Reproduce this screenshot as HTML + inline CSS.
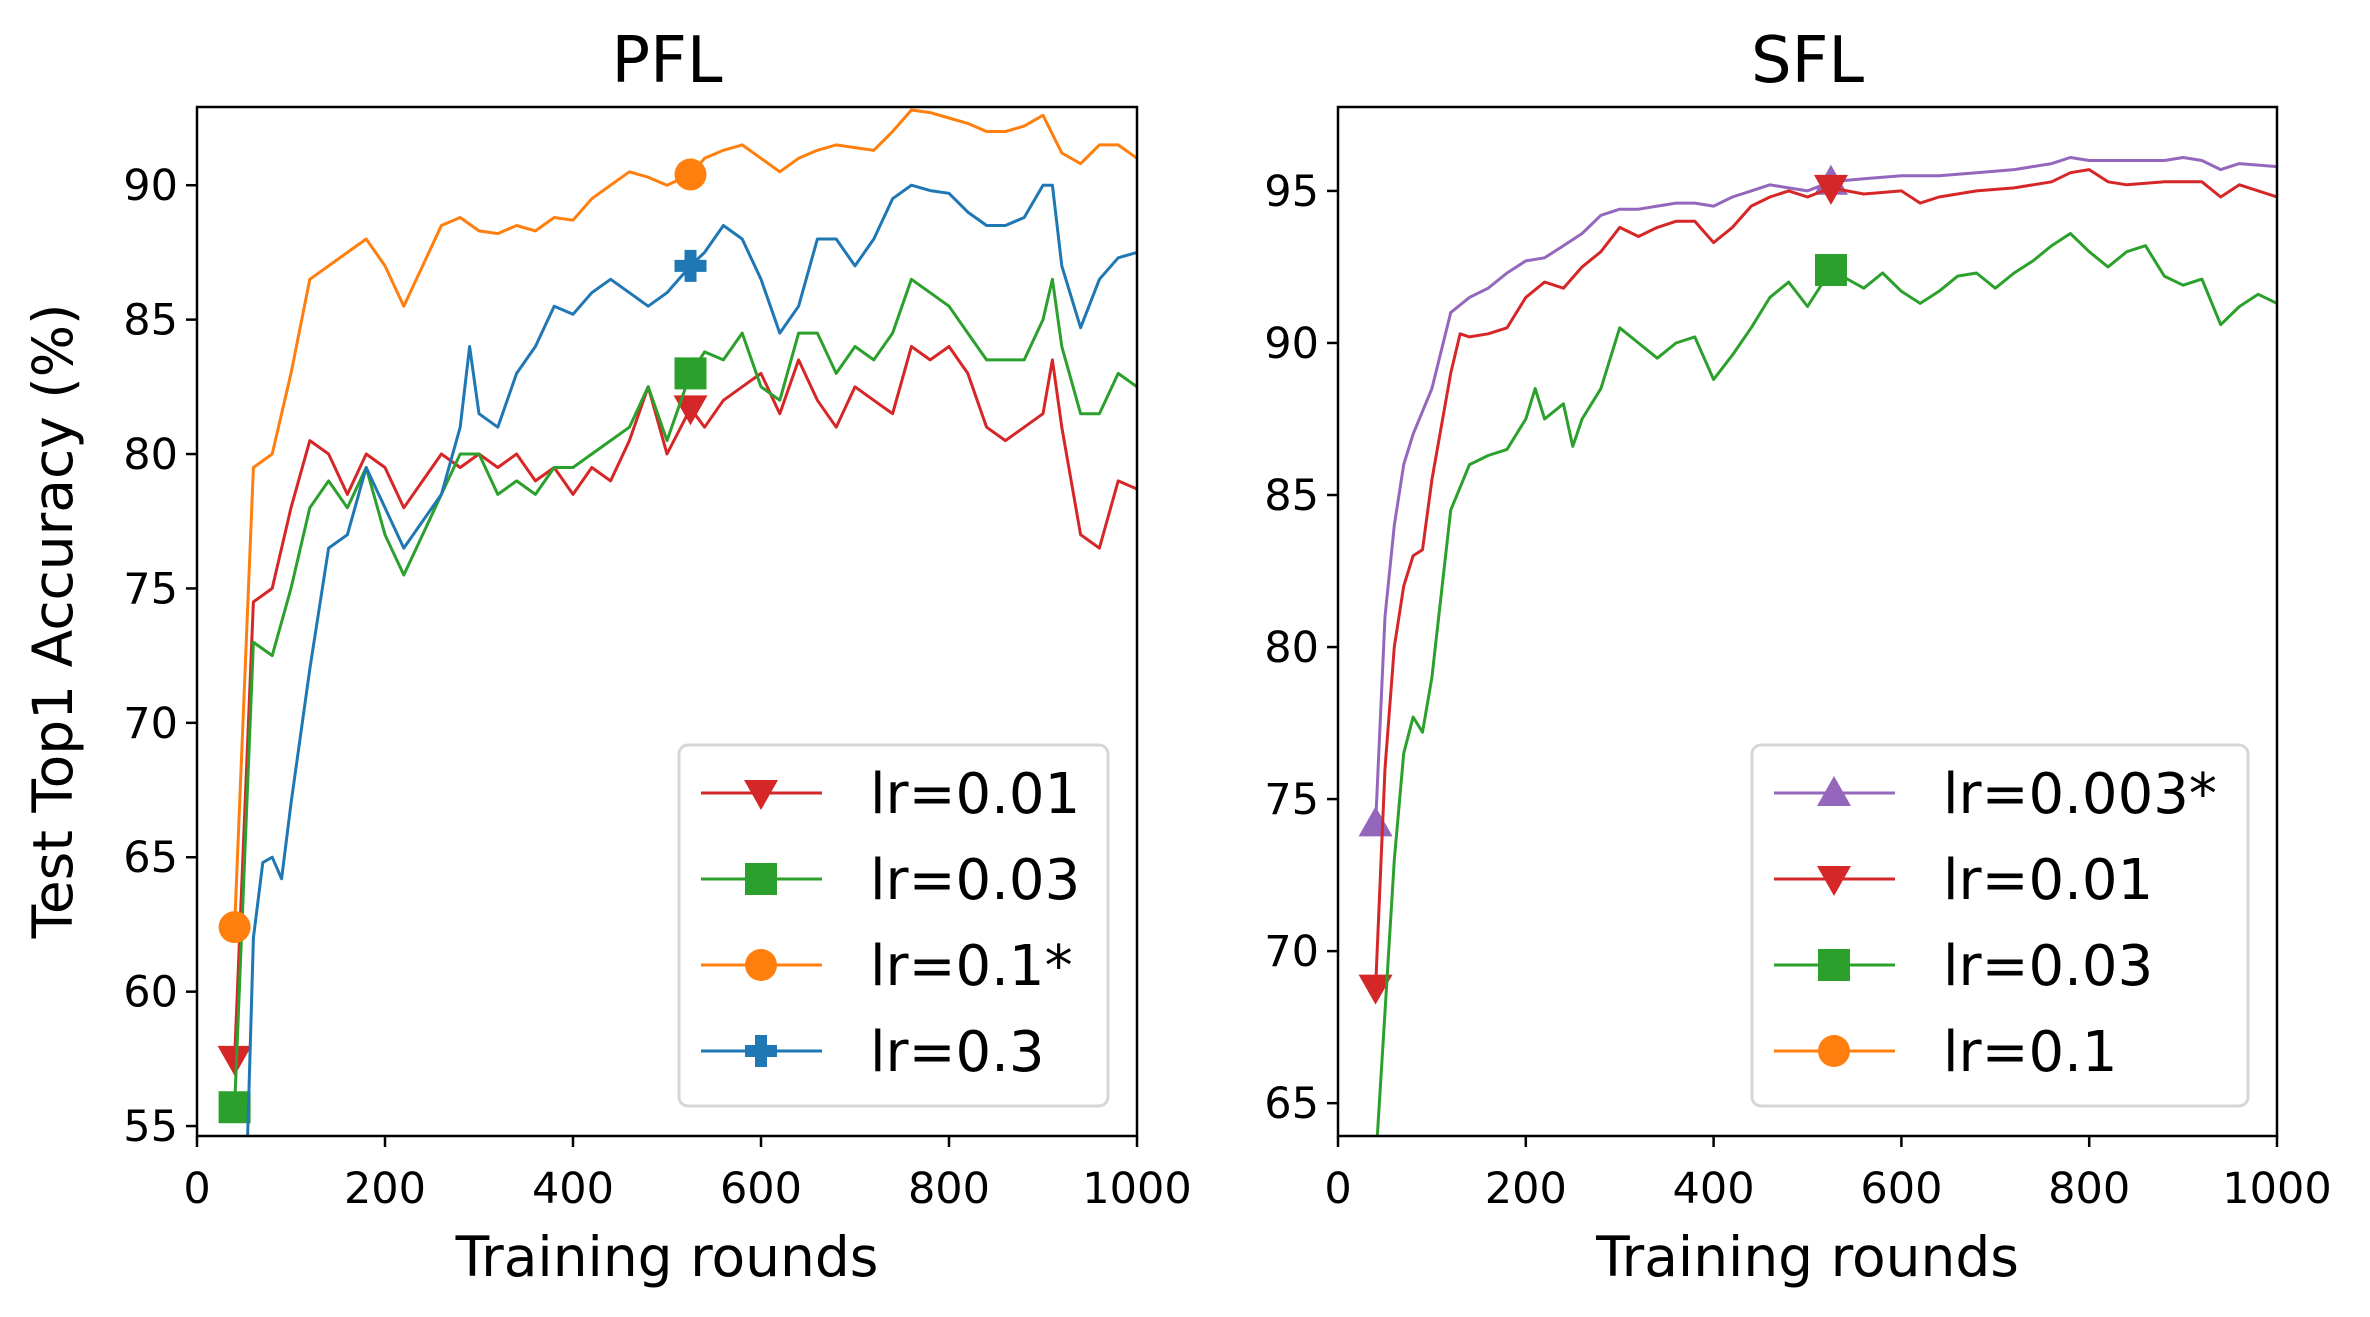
<!DOCTYPE html>
<html><head><meta charset="utf-8">
<style>
html,body{margin:0;padding:0;background:#fff;}
svg{display:block;font-family:"DejaVu Sans","Liberation Sans",sans-serif;}
</style></head>
<body>
<svg id="fig" width="2370" height="1317" viewBox="0 0 2370 1317" xmlns="http://www.w3.org/2000/svg"></svg>
<script>
// ---- PFL data ----
const pflRedX = [40,60,80,100,120,140,160,180,200,220,240,260,280,300,320,340,360,380,400,420,440,460,480,500,525,540,560,580,600,620,640,660,680,700,720,740,760,780,800,820,840,860,880,900,910,920,940,960,980,1000];
const pflRedY = [57.5,74.5,75,78,80.5,80,78.5,80,79.5,78,79,80,79.5,80,79.5,80,79,79.5,78.5,79.5,79,80.5,82.5,80,81.7,81,82,82.5,83,81.5,83.5,82,81,82.5,82,81.5,84,83.5,84,83,81,80.5,81,81.5,83.5,81,77,76.5,79,78.7];
const pflGreenX = [40,60,80,100,120,140,160,180,200,220,240,260,280,300,320,340,360,380,400,420,440,460,480,500,525,540,560,580,600,620,640,660,680,700,720,740,760,780,800,820,840,860,880,900,910,920,940,960,980,1000];
const pflGreenY = [55.7,73,72.5,75,78,79,78,79.5,77,75.5,77,78.5,80,80,78.5,79,78.5,79.5,79.5,80,80.5,81,82.5,80.5,83,83.8,83.5,84.5,82.5,82,84.5,84.5,83,84,83.5,84.5,86.5,86,85.5,84.5,83.5,83.5,83.5,85,86.5,84,81.5,81.5,83,82.5];
const pflOrangeX = [40,60,80,100,120,140,160,180,200,220,240,260,280,300,320,340,360,380,400,420,440,460,480,500,525,540,560,580,600,620,640,660,680,700,720,740,760,780,800,820,840,860,880,900,920,940,960,980,1000];
const pflOrangeY = [62.4,79.5,80,83,86.5,87,87.5,88,87,85.5,87,88.5,88.8,88.3,88.2,88.5,88.3,88.8,88.7,89.5,90,90.5,90.3,90,90.4,91,91.3,91.5,91,90.5,91,91.3,91.5,91.4,91.3,92,92.8,92.7,92.5,92.3,92,92,92.2,92.6,91.2,90.8,91.5,91.5,91];
const pflBlueX = [50,60,70,80,90,100,120,140,160,180,200,220,240,260,280,290,300,320,340,360,380,400,420,440,460,480,500,525,540,560,580,600,620,640,660,680,700,720,740,760,780,800,820,840,860,880,900,910,920,940,960,980,1000];
const pflBlueY = [50,62,64.8,65,64.2,67,72,76.5,77,79.5,78,76.5,77.5,78.5,81,84,81.5,81,83,84,85.5,85.2,86,86.5,86,85.5,86,87,87.5,88.5,88,86.5,84.5,85.5,88,88,87,88,89.5,90,89.8,89.7,89,88.5,88.5,88.8,90,90,87,84.7,86.5,87.3,87.5];
// ---- SFL data ----
const sflPurpleX = [40,50,60,70,80,100,120,140,160,180,200,220,240,260,280,300,320,340,360,380,400,420,440,460,480,500,525,560,600,640,680,720,760,780,800,840,880,900,920,940,960,1000];
const sflPurpleY = [74.2,81,84,86,87,88.5,91,91.5,91.8,92.3,92.7,92.8,93.2,93.6,94.2,94.4,94.4,94.5,94.6,94.6,94.5,94.8,95,95.2,95.1,95,95.3,95.4,95.5,95.5,95.6,95.7,95.9,96.1,96,96,96,96.1,96,95.7,95.9,95.8];
const sflRedX = [40,50,60,70,80,90,100,120,130,140,160,180,200,220,240,260,280,300,320,340,360,380,400,420,440,460,480,500,525,560,600,620,640,680,720,760,780,800,820,840,880,920,940,960,1000];
const sflRedY = [68.8,76,80,82,83,83.2,85.5,89,90.3,90.2,90.3,90.5,91.5,92,91.8,92.5,93,93.8,93.5,93.8,94,94,93.3,93.8,94.5,94.8,95,94.8,95.1,94.9,95,94.6,94.8,95,95.1,95.3,95.6,95.7,95.3,95.2,95.3,95.3,94.8,95.2,94.8];
const sflGreenX = [40,50,60,70,80,90,100,120,140,160,180,200,210,220,240,250,260,280,300,320,340,360,380,400,420,440,460,480,500,525,560,580,600,620,640,660,680,700,720,740,760,780,800,820,840,860,880,900,920,940,960,980,1000];
const sflGreenY = [63,68,73,76.5,77.7,77.2,79,84.5,86,86.3,86.5,87.5,88.5,87.5,88,86.6,87.5,88.5,90.5,90,89.5,90,90.2,88.8,89.6,90.5,91.5,92,91.2,92.4,91.8,92.3,91.7,91.3,91.7,92.2,92.3,91.8,92.3,92.7,93.2,93.6,93,92.5,93,93.2,92.2,91.9,92.1,90.6,91.2,91.6,91.3];

const pflTicks = [55,60,65,70,75,80,85,90];
const sflTicks = [65,70,75,80,85,90,95];
const xTicks = [0,200,400,600,800,1000];
const pflLegend = ["lr=0.01","lr=0.03","lr=0.1*","lr=0.3"];
const sflLegend = ["lr=0.003*","lr=0.01","lr=0.03","lr=0.1"];

const C = {red:"#d62728",green:"#2ca02c",orange:"#ff7f0e",blue:"#1f77b4",purple:"#9467bd"};
const NS="http://www.w3.org/2000/svg";
const svg=document.getElementById('fig');
function mk(tag,attrs,parent){const e=document.createElementNS(NS,tag);for(const k in attrs)e.setAttribute(k,attrs[k]);(parent||svg).appendChild(e);return e;}

function marker(g,type,cx,cy,color){
  let e;
  if(type==='tri-down'){e=mk('polygon',{points:`${cx-17},${cy-13} ${cx+17},${cy-13} ${cx},${cy+17}`,fill:color},g);}
  else if(type==='tri-up'){e=mk('polygon',{points:`${cx-17},${cy+13} ${cx+17},${cy+13} ${cx},${cy-17}`,fill:color},g);}
  else if(type==='square'){e=mk('rect',{x:cx-16,y:cy-16,width:32,height:32,fill:color},g);}
  else if(type==='circle'){e=mk('circle',{cx:cx,cy:cy,r:16,fill:color},g);}
  else {e=mk('path',{d:`M${cx-6},${cy-16}h12v10h10v12h-10v10h-12v-10h-10v-12h10z`,fill:color},g);}
  
  
  return e;
}

function panel(opt){
  const L=opt.left,R=opt.right,T=107,B=1136;
  const xs=v=>L+(v-0)/1000*(R-L);
  const ys=v=>B-(v-opt.ymin)/(opt.ymax-opt.ymin)*(B-T);
  const g=mk('g',{});
  
  
  const cid='clip-'+opt.name;
  const cp=mk('clipPath',{id:cid},g);mk('rect',{x:L,y:T,width:R-L,height:B-T},cp);
  const lines=mk('g',{'clip-path':`url(#${cid})`},g);
  opt.series.forEach(s=>{
    const sg=mk('g',{},lines);
    
    
    const pts=s.x.map((v,i)=>xs(v).toFixed(1)+','+ys(s.y[i]).toFixed(1)).join(' ');
    const pl=mk('polyline',{points:pts,fill:'none',stroke:s.color,'stroke-width':3,'stroke-linejoin':'round'},sg);
    
    
    s.marks.forEach(mx=>{
      let v=s.y[0];
      for(let i=0;i<s.x.length-1;i++){if(mx>=s.x[i]&&mx<=s.x[i+1]){v=s.y[i]+(s.y[i+1]-s.y[i])*(mx-s.x[i])/(s.x[i+1]-s.x[i]);break;}}
      marker(sg,s.mtype,xs(mx),ys(v),s.color);
    });
  });
  const frame=mk('rect',{x:L,y:T,width:R-L,height:B-T,fill:'none',stroke:'#000','stroke-width':2.5},g);
  
  
  xTicks.forEach(t=>{
    const x=xs(t);
    mk('line',{x1:x,y1:B,x2:x,y2:B+11,stroke:'#000','stroke-width':2.5},g);
    const tx=mk('text',{x:x,y:1203,'text-anchor':'middle','font-size':43,fill:'#000'},g);
    tx.textContent=t;
    
    
  });
  opt.yticks.forEach(t=>{
    const y=ys(t);
    mk('line',{x1:L-11,y1:y,x2:L,y2:y,stroke:'#000','stroke-width':2.5},g);
    const tx=mk('text',{x:L-19,y:y+15,'text-anchor':'end','font-size':43,fill:'#000'},g);
    tx.textContent=t;
    
    
  });
  const title=mk('text',{x:(L+R)/2,y:82,'text-anchor':'middle','font-size':64,fill:'#000'},g);
  title.textContent=opt.title;
  
  
  const xl=mk('text',{x:(L+R)/2,y:1276,'text-anchor':'middle','font-size':55,fill:'#000'},g);
  xl.textContent='Training rounds';
  
  
  const lg=mk('g',{},g);
  
  
  const lb=opt.legendBox;
  mk('rect',{x:lb[0],y:745,width:lb[1]-lb[0],height:361,rx:9,fill:'#fff','fill-opacity':0.8,stroke:'#d6d6d6','stroke-width':3},lg);
  const rowsY=[793,879,965,1051];
  opt.legendItems.forEach((it,i)=>{
    const eg=mk('g',{},lg);
    
    
    const y=rowsY[i];
    mk('line',{x1:lb[0]+22,y1:y,x2:lb[0]+143,y2:y,stroke:it.color,'stroke-width':3},eg);
    marker(eg,it.mtype,lb[0]+82,y,it.color);
    const tx=mk('text',{x:lb[0]+191,y:y+20,'font-size':56,fill:'#000'},eg);
    tx.textContent=it.label;
  });
}

panel({name:'pfl-panel',title:'PFL',left:197,right:1137,ymin:54.63,ymax:92.91,yticks:pflTicks,
  series:[
    {name:'pfl-lr-0.01',x:pflRedX,y:pflRedY,color:C.red,mtype:'tri-down',marks:[40,525]},
    {name:'pfl-lr-0.03',x:pflGreenX,y:pflGreenY,color:C.green,mtype:'square',marks:[40,525]},
    {name:'pfl-lr-0.1',x:pflOrangeX,y:pflOrangeY,color:C.orange,mtype:'circle',marks:[40,525]},
    {name:'pfl-lr-0.3',x:pflBlueX,y:pflBlueY,color:C.blue,mtype:'plus',marks:[525]}
  ],
  legendBox:[679,1108],
  legendItems:[
    {label:pflLegend[0],color:C.red,mtype:'tri-down'},
    {label:pflLegend[1],color:C.green,mtype:'square'},
    {label:pflLegend[2],color:C.orange,mtype:'circle'},
    {label:pflLegend[3],color:C.blue,mtype:'plus'}
  ]});

panel({name:'sfl-panel',title:'SFL',left:1338,right:2277,ymin:63.92,ymax:97.76,yticks:sflTicks,
  series:[
    {name:'sfl-lr-0.003',x:sflPurpleX,y:sflPurpleY,color:C.purple,mtype:'tri-up',marks:[40,525]},
    {name:'sfl-lr-0.01',x:sflRedX,y:sflRedY,color:C.red,mtype:'tri-down',marks:[40,525]},
    {name:'sfl-lr-0.03',x:sflGreenX,y:sflGreenY,color:C.green,mtype:'square',marks:[525]}
  ],
  legendBox:[1752,2248],
  legendItems:[
    {label:sflLegend[0],color:C.purple,mtype:'tri-up'},
    {label:sflLegend[1],color:C.red,mtype:'tri-down'},
    {label:sflLegend[2],color:C.green,mtype:'square'},
    {label:sflLegend[3],color:C.orange,mtype:'circle'}
  ]});

const yl=mk('text',{x:0,y:0,'text-anchor':'middle','font-size':55,fill:'#000',transform:'translate(72,621) rotate(-90)'});
yl.textContent='Test Top1 Accuracy (%)';


</script>
</body></html>
